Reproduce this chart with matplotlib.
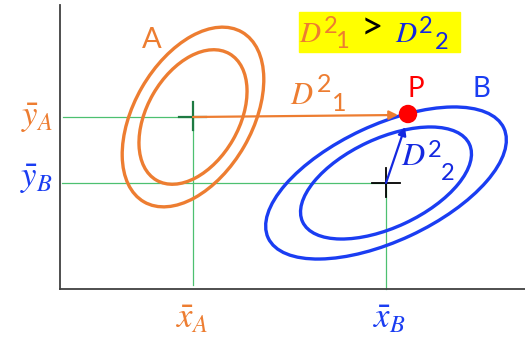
import matplotlib
matplotlib.use("Agg")
import matplotlib.pyplot as plt
from matplotlib.patches import Ellipse, Rectangle, Circle

plt.rcParams['mathtext.fontset'] = 'custom'
plt.rcParams['mathtext.rm'] = 'Lato'
plt.rcParams['mathtext.it'] = 'STIXGeneral:italic'
plt.rcParams['mathtext.bf'] = 'STIXGeneral:bold'

# ---- diagram data (pixel-space coordinates, y downward) ----
center_A = (193, 117)
center_B = (386, 183)
point_P = (408, 114)
# ellipse (width, height, angle) pairs: outer, inner
ellipses_A = [(196, 118, -60), (146, 92, -60)]
ellipses_B = [(260, 116, -25), (184, 89, -25)]
axis_origin = (60, 289)
axis_top = 5
axis_right = 525
labels_groups = ['A', 'B']
point_label = 'P'

ORANGE = '#ED7D31'
BLUE = '#1A3DF2'
DBLUE = '#1428E0'
GREEN = '#4DC070'
DKGREEN = '#1E7A42'
RED = '#FF0000'

fig = plt.figure(figsize=(5.25, 3.39), dpi=100)
ax = fig.add_axes([0, 0, 1, 1])
ax.set_xlim(0, 525)
ax.set_ylim(339, 0)
ax.axis('off')

# axes
ax.plot([axis_origin[0], axis_origin[0]], [axis_top, axis_origin[1]], color='#404040', lw=1.3, zorder=3)
ax.plot([axis_origin[0], axis_right], [axis_origin[1], axis_origin[1]], color='#404040', lw=1.3, zorder=3)

# guide lines
ax.plot([axis_origin[0] + 3, center_A[0]], [center_A[1], center_A[1]], color=GREEN, lw=0.9, zorder=1)
ax.plot([axis_origin[0] + 2, center_B[0]], [center_B[1], center_B[1]], color=GREEN, lw=0.9, zorder=1)
ax.plot([center_A[0], center_A[0]], [center_A[1], axis_origin[1] - 4], color=GREEN, lw=0.9, zorder=1)
ax.plot([center_B[0], center_B[0]], [center_B[1], axis_origin[1]], color=GREEN, lw=0.9, zorder=1)

# ellipses
for w, h, ang in ellipses_A:
    ax.add_patch(Ellipse(center_A, w, h, angle=ang, fill=False, ec=ORANGE, lw=2.4, zorder=2))
for w, h, ang in ellipses_B:
    ax.add_patch(Ellipse(center_B, w, h, angle=ang, fill=False, ec=BLUE, lw=2.4, zorder=2))

# centre crosses
ax.plot([center_A[0] - 14, center_A[0] + 13], [center_A[1], center_A[1]], color=DKGREEN, lw=1.6, zorder=4)
ax.plot([center_A[0], center_A[0]], [center_A[1] - 15, center_A[1] + 13], color=DKGREEN, lw=1.6, zorder=4)
ax.plot([center_B[0] - 14, center_B[0] + 14], [center_B[1], center_B[1]], color='black', lw=1.3, zorder=4)
ax.plot([center_B[0], center_B[0]], [center_B[1] - 15, center_B[1] + 14], color='black', lw=1.3, zorder=4)

# arrows
ax.annotate('', xy=(point_P[0] - 10, point_P[1] + 1), xytext=(center_A[0], center_A[1]),
            arrowprops=dict(arrowstyle='-|>', color=ORANGE, lw=1.6, mutation_scale=13,
                            shrinkA=0, shrinkB=0), zorder=5)
ax.annotate('', xy=(point_P[0] - 3, point_P[1] + 13), xytext=(center_B[0], center_B[1]),
            arrowprops=dict(arrowstyle='-|>', color=DBLUE, lw=1.6, mutation_scale=12,
                            shrinkA=0, shrinkB=0), zorder=5)

# point P
ax.add_patch(Circle(point_P, 8.5, color=RED, zorder=6))

# labels
ax.text(152, 40, labels_groups[0], color=ORANGE, fontsize=21, family='Lato', ha='center', va='center')
ax.text(416, 89, point_label, color=RED, fontsize=20, family='Lato', ha='center', va='center')
ax.text(481, 89, labels_groups[1], color=BLUE, fontsize=20, family='Lato', ha='center', va='center')


def dlabel(xd, yb, xs, ys, xsub, ysub, sub, color, dsize, nsize, z=5):
    ax.text(xd, yb, 'D', color=color, fontsize=dsize, family='STIXGeneral', style='italic',
            ha='left', va='baseline', zorder=z)
    ax.text(xs, ys, '2', color=color, fontsize=nsize, family='Lato', ha='left', va='baseline', zorder=z)
    ax.text(xsub, ysub, sub, color=color, fontsize=nsize, family='Lato', ha='left', va='baseline', zorder=z)


dlabel(290, 104, 317, 92, 332, 111, '1', ORANGE, 22, 18)
dlabel(401, 165, 428, 157, 441, 180, '2', DBLUE, 23, 17)

# yellow box
ax.add_patch(Rectangle((299, 12), 161, 40, color='#FFFF00', zorder=1))
dlabel(299, 42, 324, 33, 335, 48, '1', ORANGE, 21, 17, z=2)
ax.text(372, 40, '>', color='black', fontsize=28, family='Lato', ha='center', va='baseline', zorder=2)
dlabel(395, 42, 419, 33, 435, 49, '2', DBLUE, 21, 17, z=2)

# axis labels
ax.text(37, 118, r'$\bar{y}_{A}$', color=ORANGE, fontsize=25, ha='center', va='center')
ax.text(37, 179, r'$\bar{y}_{B}$', color=BLUE, fontsize=25, ha='center', va='center')
ax.text(192, 318, r'$\bar{x}_{A}$', color=ORANGE, fontsize=25, ha='center', va='center')
ax.text(390, 318, r'$\bar{x}_{B}$', color=BLUE, fontsize=25, ha='center', va='center')

fig.savefig('out.png', dpi=100)
